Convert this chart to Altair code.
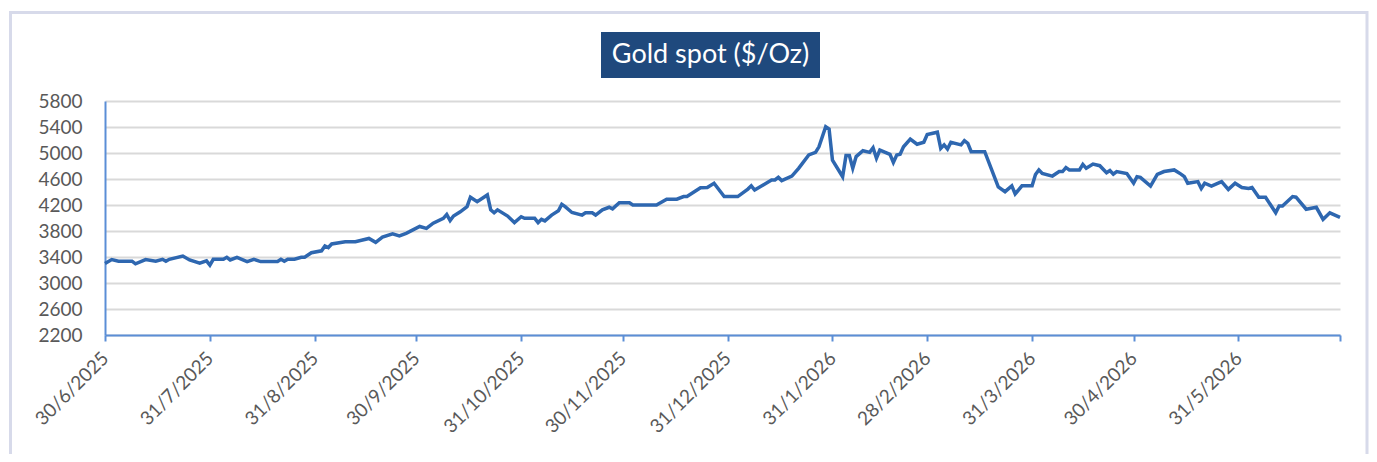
import altair as alt
import pandas as pd

dates = [
    "2025-06-30", "2025-07-02", "2025-07-04", "2025-07-08", "2025-07-09", "2025-07-12", "2025-07-15",
    "2025-07-17", "2025-07-18", "2025-07-19", "2025-07-23", "2025-07-25", "2025-07-28", "2025-07-30",
    "2025-07-31",
    "2025-08-01", "2025-08-04", "2025-08-05", "2025-08-06", "2025-08-08", "2025-08-11", "2025-08-13",
    "2025-08-15", "2025-08-20", "2025-08-21", "2025-08-22", "2025-08-23", "2025-08-25", "2025-08-27",
    "2025-08-28", "2025-08-30",
    "2025-09-02", "2025-09-03", "2025-09-04", "2025-09-05", "2025-09-09", "2025-09-12", "2025-09-16",
    "2025-09-18", "2025-09-20", "2025-09-23", "2025-09-25", "2025-09-27", "2025-09-28",
    "2025-10-01", "2025-10-03", "2025-10-05", "2025-10-08", "2025-10-09", "2025-10-10", "2025-10-11",
    "2025-10-13", "2025-10-15", "2025-10-16", "2025-10-18", "2025-10-21", "2025-10-22", "2025-10-23",
    "2025-10-24", "2025-10-27", "2025-10-29", "2025-10-31",
    "2025-11-01", "2025-11-04", "2025-11-05", "2025-11-06", "2025-11-07", "2025-11-09", "2025-11-11",
    "2025-11-12", "2025-11-13", "2025-11-15", "2025-11-18", "2025-11-19", "2025-11-21", "2025-11-22",
    "2025-11-24", "2025-11-26", "2025-11-27", "2025-11-29",
    "2025-12-02", "2025-12-03", "2025-12-10", "2025-12-13", "2025-12-16", "2025-12-18", "2025-12-19",
    "2025-12-23", "2025-12-25", "2025-12-27", "2025-12-30",
    "2026-01-03", "2026-01-06", "2026-01-07", "2026-01-08", "2026-01-13", "2026-01-14", "2026-01-15",
    "2026-01-16", "2026-01-19", "2026-01-21", "2026-01-24", "2026-01-26", "2026-01-27", "2026-01-29",
    "2026-01-30", "2026-01-31",
    "2026-02-03", "2026-02-04", "2026-02-05", "2026-02-06", "2026-02-07", "2026-02-09", "2026-02-11",
    "2026-02-12", "2026-02-13", "2026-02-14", "2026-02-17", "2026-02-18", "2026-02-19", "2026-02-20",
    "2026-02-21", "2026-02-23", "2026-02-25", "2026-02-27", "2026-02-28",
    "2026-03-03", "2026-03-04", "2026-03-05", "2026-03-06", "2026-03-07", "2026-03-10", "2026-03-11",
    "2026-03-12", "2026-03-13", "2026-03-17", "2026-03-21", "2026-03-23", "2026-03-25", "2026-03-26",
    "2026-03-28", "2026-03-31",
    "2026-04-01", "2026-04-02", "2026-04-03", "2026-04-06", "2026-04-08", "2026-04-09", "2026-04-10",
    "2026-04-11", "2026-04-14", "2026-04-15", "2026-04-16", "2026-04-18", "2026-04-20", "2026-04-22",
    "2026-04-23", "2026-04-24", "2026-04-25", "2026-04-28", "2026-04-30",
    "2026-05-01", "2026-05-02", "2026-05-05", "2026-05-07", "2026-05-09", "2026-05-12", "2026-05-14",
    "2026-05-15", "2026-05-16", "2026-05-19", "2026-05-20", "2026-05-21", "2026-05-23", "2026-05-26",
    "2026-05-28", "2026-05-30",
    "2026-06-01", "2026-06-03", "2026-06-04", "2026-06-06", "2026-06-08", "2026-06-11", "2026-06-12",
    "2026-06-13", "2026-06-16", "2026-06-17", "2026-06-20", "2026-06-23", "2026-06-25", "2026-06-27",
    "2026-06-30",
]

prices = [
    3300, 3360, 3335, 3335, 3295, 3360, 3335, 3365, 3335, 3365, 3415, 3355, 3305, 3340, 3275,
    3365, 3365, 3395, 3355, 3395, 3330, 3365, 3330, 3330, 3365, 3335, 3365, 3365, 3395, 3395, 3465,
    3495, 3570, 3545, 3600, 3635, 3635, 3685, 3625, 3705, 3755, 3725, 3765, 3790,
    3870, 3840, 3920, 3995, 4055, 3960, 4030, 4095, 4175, 4320, 4250, 4355, 4125, 4080, 4125, 4030,
    3930, 4020,
    3995, 3995, 3930, 3980, 3955, 4045, 4110, 4210, 4175, 4085, 4045, 4080, 4080, 4045, 4125, 4165,
    4140, 4235,
    4235, 4200, 4200, 4290, 4290, 4330, 4330, 4465, 4470, 4535, 4330,
    4330, 4445, 4495, 4430, 4585, 4585, 4625, 4575, 4645, 4765, 4970, 5010, 5095, 5405, 5370, 4890,
    4635, 4960, 4960, 4765, 4945, 5035, 5010, 5080, 4920, 5045, 4980, 4855, 4970, 4980, 5095, 5215,
    5135, 5165, 5285,
    5320, 5070, 5125, 5060, 5165, 5125, 5190, 5150, 5020, 5020, 4480, 4405, 4495, 4370, 4495, 4495,
    4670, 4740, 4685, 4645, 4715, 4715, 4775, 4740, 4740, 4825, 4765, 4830, 4805, 4695, 4730, 4675,
    4715, 4685, 4535,
    4635, 4625, 4490, 4670, 4715, 4740, 4675, 4635, 4535, 4560, 4455, 4535, 4490, 4560, 4440, 4535,
    4470, 4455, 4470, 4320, 4320, 4080, 4185, 4185, 4330, 4320, 4135, 4165, 3980, 4080, 4010,
]

# month-end tick dates (year, month, day)
x_ticks = [
    (2025, 6, 30), (2025, 7, 31), (2025, 8, 31), (2025, 9, 30), (2025, 10, 31), (2025, 11, 30),
    (2025, 12, 31), (2026, 1, 31), (2026, 2, 28), (2026, 3, 31), (2026, 4, 30), (2026, 5, 31),
    (2026, 6, 30),
]
y_ticks = [2200, 2600, 3000, 3400, 3800, 4200, 4600, 5000, 5400, 5800]
title_text = "Gold spot ($/Oz)"

df = pd.DataFrame({"date": dates, "price": prices})
one = pd.DataFrame({"k": [0]})

FONT = "Lato"
LINE_COLOR = "#2E67B0"
AXIS_COLOR = "#5B8ED6"
LABEL_COLOR = "#595959"


def dt(t):
    return alt.DateTime(year=t[0], month=t[1], date=t[2], utc=True)


x_enc = alt.X(
    "date:T",
    scale=alt.Scale(type="utc", domain=[dt(x_ticks[0]), dt(x_ticks[-1])]),
    axis=alt.Axis(
        values=[dt(t) for t in x_ticks],
        labelExpr="utcFormat(datum.value, '%-d/%-m/%Y') == '30/6/2026' ? '' : utcFormat(datum.value, '%-d/%-m/%Y')",
        labelAngle=-45,
        labelAlign="right",
        labelBaseline="middle",
        labelFont=FONT,
        labelFontSize=19,
        labelColor=LABEL_COLOR,
        labelPadding=14,
        labelOverlap=False,
        tickSize=6,
        tickWidth=2,
        tickColor=AXIS_COLOR,
        domainColor=AXIS_COLOR,
        domainWidth=2,
        grid=False,
        title="",
    ),
)

y_enc = alt.Y(
    "price:Q",
    scale=alt.Scale(domain=[y_ticks[0], y_ticks[-1]], nice=False, zero=False),
    axis=alt.Axis(
        values=y_ticks,
        format="d",
        ticks=False,
        labelFont=FONT,
        labelFontSize=19,
        labelColor=LABEL_COLOR,
        labelPadding=23,
        domainColor=AXIS_COLOR,
        domainWidth=2,
        gridColor="#D9D9D9",
        gridWidth=2,
        title="",
    ),
)

line = alt.Chart(df).mark_line(color=LINE_COLOR, strokeWidth=3.5).encode(x=x_enc, y=y_enc)

border = alt.Chart(one).mark_rect(
    fillOpacity=0, stroke="#D7DAEA", strokeWidth=3
).encode(
    x=alt.value(-94.5), x2=alt.value(1262), y=alt.value(-88.5), y2=alt.value(420)
)

title_box = alt.Chart(one).mark_rect(color="#1F497D").encode(
    x=alt.value(496), x2=alt.value(715), y=alt.value(-69), y2=alt.value(-23)
)

title = alt.Chart(one).mark_text(
    text=title_text, font=FONT, fontSize=27, color="white", align="center", baseline="middle"
).encode(x=alt.value(605.5), y=alt.value(-46))

chart = (
    alt.layer(border, title_box, title, line)
    .properties(
        width=1235,
        height=234,
        padding={"left": 97, "top": 93, "right": 29, "bottom": 119},
        autosize=alt.AutoSizeParams(type="none"),
        background="white",
    )
    .configure_view(strokeWidth=0)
)

chart.save("out.html", embed_options={"renderer": "svg", "actions": False})
